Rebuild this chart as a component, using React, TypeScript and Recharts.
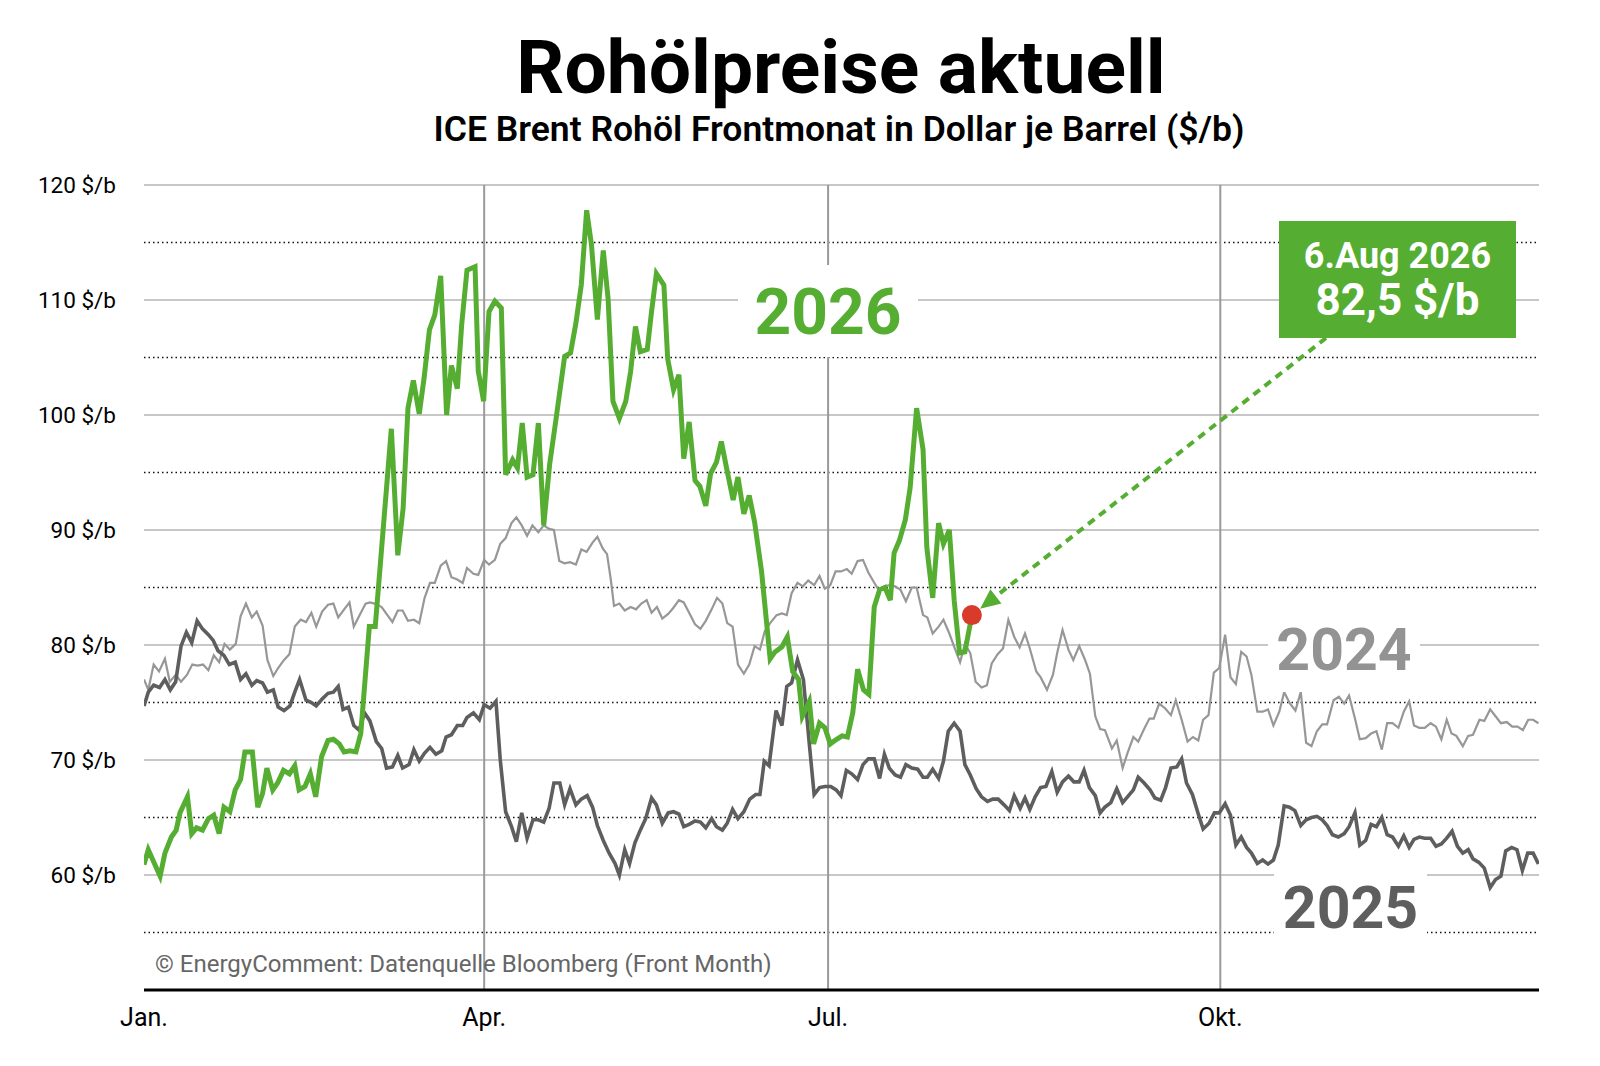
import React from "react";
import { LineChart, Line, XAxis, YAxis, ReferenceLine, ReferenceDot } from "recharts";

const W = 1600;
const H = 1066;
const PLOT = { left: 144, right: 1539, top: 185, bottom: 990 };
const X_MAX = 260;
const Y_MIN = 50;
const Y_MAX = 120;

// trading-day index → month labels
const monthTicks = [0, 63.4, 127.5, 200.6];
const monthLabels = ["Jan.", "Apr.", "Jul.", "Okt."];
const priceTicks = [60, 70, 80, 90, 100, 110, 120];
const dottedLevels = [55, 65, 75, 85, 95, 105, 115];

// [trading day, $/b]
const brent2024: [number, number][] = [
  [0, 77.0], [0.8, 76.1], [1.8, 78.3], [2.8, 77.7], [3.9, 78.8], [4.8, 76.8], [5.9, 77.4], [6.9, 76.8],
  [8, 77.4], [9, 78.3], [10, 78.2], [11, 78.3], [12, 77.8], [13, 79.1], [14, 78.5], [15, 80.1], [16, 79.6],
  [17.1, 80.1], [18, 82.5], [19, 83.6], [20.1, 82.4], [21, 82.9], [22.1, 81.7], [23, 78.7], [24.1, 77.3],
  [25, 78.0], [26.1, 78.7], [27.1, 79.2], [28.1, 81.6], [29.2, 82.2], [30.2, 82.0], [31.2, 82.8], [32.1, 81.6],
  [33.2, 82.9], [34.3, 83.5], [35.3, 83.6], [36.2, 82.4], [37.3, 83.1], [38.3, 83.7], [39.1, 81.6], [40.2, 82.6],
  [41.3, 83.6], [42.1, 83.7], [43, 83.6], [44.3, 83.3], [45.2, 82.7], [46.3, 82.0], [47.3, 83.0], [48.2, 83.0],
  [49.2, 82.1], [50.3, 82.2], [51.3, 81.9], [52.3, 84.1], [53.3, 85.4], [54.2, 85.4], [55.3, 86.9], [56.3, 87.3],
  [57.3, 85.9], [58.4, 85.7], [59.4, 85.4], [60.2, 86.7], [61.4, 86.2], [62.3, 86.1], [63.4, 87.4], [64.3, 87.0],
  [65.4, 87.4], [66.4, 88.8], [67.4, 89.3], [68.5, 90.6], [69.4, 91.1], [70.4, 90.4], [71.4, 89.5], [72.4, 90.4],
  [73.5, 89.8], [74.5, 90.4], [75.5, 90.1], [76.4, 90.0], [77.4, 87.3], [78.4, 87.1], [79.4, 87.2], [80.5, 87.0],
  [81.5, 88.3], [82.5, 88.1], [83.6, 88.9], [84.5, 89.4], [85.5, 88.4], [86.3, 87.9], [87, 85.7], [87.6, 83.4],
  [88.6, 83.6], [89.6, 83.0], [90.7, 83.3], [91.7, 83.1], [92.7, 83.6], [93.7, 83.9], [94.6, 82.8], [95.6, 83.3],
  [96.6, 82.3], [97.7, 82.7], [98.6, 83.2], [99.7, 83.9], [100.6, 83.7], [101.6, 82.8], [102.7, 81.8], [103.7, 81.4],
  [104.7, 82.1], [105.8, 83.1], [106.8, 84.1], [107.8, 83.6], [108.7, 81.9], [109.7, 81.6], [110.7, 78.3],
  [111.8, 77.5], [112.8, 78.3], [113.8, 79.9], [114.8, 79.6], [115.7, 81.2], [116.7, 81.9], [117.9, 82.6],
  [118.9, 82.75], [119.8, 82.6], [120.7, 84.5], [121.8, 85.4], [122.8, 85.1], [123.8, 85.6], [124.9, 85.2],
  [125.9, 86.0], [126.9, 84.9], [127.9, 85.2], [128.9, 86.4], [129.9, 86.4], [131, 86.6], [131.9, 86.2],
  [133, 87.3], [134, 87.4], [135, 86.3], [136, 85.5], [136.9, 84.8], [138, 85.1], [139, 85.2], [140, 85.1],
  [141, 84.8], [142, 83.8], [143.1, 85.0], [144, 85.0], [145.2, 82.6], [146, 82.4], [147, 81.0], [148.1, 81.6],
  [149, 82.2], [150.1, 81.0], [151.2, 79.6], [152.1, 78.5], [153, 80.1], [154, 79.3], [155, 76.8], [156.1, 76.3],
  [157.1, 76.5], [158, 78.4], [159.1, 79.2], [160.1, 79.7], [161.1, 82.2], [162.2, 80.7], [163.2, 79.8],
  [164.2, 81.0], [165.1, 79.7], [166.3, 77.7], [167.1, 77.2], [168.3, 76.1], [169.4, 77.4], [170.2, 79.3],
  [171.2, 81.3], [172.3, 79.6], [173.2, 78.7], [174.3, 79.9], [175.4, 78.7], [176.3, 77.5], [177.3, 73.8],
  [178.2, 72.7], [179.1, 72.6], [180.4, 71.0], [181.3, 71.7], [182.4, 69.3], [183.3, 70.6], [184.4, 72.0],
  [185.3, 71.6], [186.4, 72.7], [187.4, 73.6], [188.2, 73.6], [189.2, 74.9], [190.3, 74.5], [191.4, 73.9],
  [192.3, 75.2], [193.4, 73.5], [194.5, 71.6], [195.5, 72.0], [196.5, 71.7], [197.4, 73.5], [198.4, 73.9],
  [199.4, 77.6], [200.4, 78.0], [201.5, 80.9], [202.5, 77.2], [203.5, 76.6], [204.5, 79.4], [205.5, 79.0],
  [206.4, 77.4], [207.5, 74.2], [208.5, 74.2], [209.5, 74.4], [210.5, 73.0], [211.6, 74.2], [212.5, 75.9],
  [213.6, 74.9], [214.6, 74.3], [215.6, 75.9], [216.6, 71.5], [217.6, 71.2], [218.6, 72.5], [219.6, 73.1],
  [220.5, 73.1], [221.7, 75.2], [222.7, 75.5], [223.7, 74.9], [224.6, 75.6], [225.7, 73.6], [226.6, 71.8],
  [227.7, 71.9], [228.7, 72.3], [229.7, 72.5], [230.7, 70.9], [231.7, 73.2], [232.7, 73.2], [233.8, 72.8],
  [234.8, 74.2], [235.8, 75.1], [236.7, 73.0], [237.7, 72.8], [238.7, 72.8], [239.8, 73.2], [240.8, 72.9],
  [241.8, 71.8], [242.8, 73.5], [243.7, 72.3], [244.6, 72.1], [245.8, 71.2], [246.8, 72.1], [247.7, 72.2],
  [248.9, 73.5], [249.8, 73.4], [250.9, 74.4], [251.9, 73.8], [252.9, 73.2], [254, 73.3], [255, 72.9],
  [256, 72.9], [257, 72.6], [258, 73.5], [258.9, 73.5], [259.9, 73.2],
];

const brent2025: [number, number][] = [
  [0, 74.7], [0.8, 75.9], [1.8, 76.5], [2.9, 76.3], [3.9, 77.0], [4.9, 76.1], [5.9, 76.8], [6.9, 79.9],
  [7.9, 81.1], [8.9, 80.2], [9.9, 82.1], [10.9, 81.4], [12, 80.9], [12.9, 80.4], [13.8, 79.5], [14.9, 79.1],
  [15.9, 78.3], [17, 78.5], [18, 77.0], [19, 77.5], [20.1, 76.5], [21, 76.9], [22.1, 76.7], [23, 75.9],
  [24.1, 76.1], [25, 74.6], [26.1, 74.3], [27.2, 74.7], [28.1, 75.9], [29, 77.0], [30.2, 75.2], [31.2, 75.0],
  [32.1, 74.7], [33.2, 75.3], [34.3, 75.8], [35.3, 75.9], [36.2, 76.4], [37.1, 74.4], [38.1, 74.6], [39.1, 73.0],
  [40.1, 72.6], [41.1, 74.1], [42.1, 73.4], [43.3, 71.6], [44.3, 71.0], [45.2, 69.3], [46.3, 69.4], [47.3, 70.4],
  [48.2, 69.3], [49.4, 69.6], [50.3, 70.9], [51.3, 69.9], [52.3, 70.6], [53.3, 71.1], [54.4, 70.5], [55.5, 70.8],
  [56.3, 72.0], [57.3, 72.2], [58.4, 73.0], [59.4, 73.0], [60.2, 73.7], [61.4, 74.1], [62.5, 73.5], [63.4, 74.8],
  [64.5, 74.5], [65.6, 75.1], [66.4, 70.0], [67.4, 65.5], [68.5, 64.2], [69.4, 62.9], [70.4, 65.4], [71.4, 63.2],
  [72.5, 64.8], [73.5, 64.8], [74.5, 64.6], [75.5, 65.8], [76.4, 68.0], [77.5, 68.0], [78.4, 66.1], [79.4, 67.5],
  [80.5, 66.1], [81.5, 66.6], [82.6, 66.9], [83.6, 65.9], [84.5, 64.3], [85.6, 63.0], [86.7, 61.9], [87.8, 61.0],
  [88.6, 60.0], [89.6, 62.2], [90.5, 61.0], [91.5, 62.8], [92.5, 63.9], [93.5, 64.9], [94.6, 66.7], [95.5, 66.1],
  [96.6, 64.5], [97.7, 65.4], [98.7, 65.5], [99.7, 65.3], [100.6, 64.2], [101.6, 64.4], [102.7, 64.7],
  [103.7, 64.6], [104.7, 64.1], [105.8, 64.9], [106.7, 64.2], [107.8, 63.9], [108.7, 64.5], [109.7, 65.7],
  [110.7, 64.9], [111.8, 65.5], [112.9, 66.6], [114, 67.0], [114.8, 67.0], [115.6, 69.9], [116.5, 69.5],
  [117.8, 74.3], [118.9, 73.0], [119.8, 76.4], [120.7, 76.7], [121.8, 78.7], [122.9, 77.0], [124, 71.4],
  [124.9, 67.0], [125.9, 67.6], [126.9, 67.7], [128, 67.7], [129, 67.4], [129.9, 66.9], [130.9, 69.1],
  [131.9, 68.8], [133, 68.3], [134, 69.6], [135, 70.1], [136.1, 70.1], [137.1, 68.4], [138, 70.5], [138.9, 69.3],
  [140, 68.7], [141, 68.5], [142, 69.6], [143.1, 69.3], [144.2, 69.2], [145.2, 68.5], [146, 68.5], [147, 69.2],
  [148.1, 68.4], [149, 69.9], [149.9, 72.5], [151, 73.2], [152.1, 72.5], [153, 69.6], [154, 68.7], [155.1, 67.5],
  [156.1, 66.8], [157.2, 66.4], [158.2, 66.6], [159.2, 66.6], [160.3, 66.1], [161.3, 65.6], [162.2, 66.9],
  [163.3, 65.8], [164.2, 66.7], [165.1, 65.7], [166.1, 66.8], [167.1, 67.6], [168.1, 67.7], [169.2, 69.0],
  [170.2, 67.2], [171.2, 68.1], [172.3, 68.6], [173.3, 68.1], [174.3, 68.1], [175.2, 69.1], [176.2, 67.6],
  [177.3, 66.9], [178.2, 65.4], [179.1, 65.9], [180.2, 66.3], [181.3, 67.5], [182.4, 66.3], [183.5, 66.9],
  [184.4, 67.4], [185.3, 68.5], [186.4, 68.0], [187.5, 67.4], [188.4, 66.7], [189.5, 66.5], [190.4, 67.6],
  [191.4, 69.3], [192.5, 69.4], [193.4, 70.1], [194.3, 68.0], [195.4, 67.0], [196.5, 65.3], [197.4, 64.0],
  [198.5, 64.5], [199.5, 65.4], [200.4, 65.4], [201.5, 66.2], [202.5, 65.2], [203.5, 62.6], [204.5, 63.3],
  [205.5, 62.4], [206.4, 61.9], [207.5, 61.0], [208.5, 61.3], [209.5, 60.95], [210.5, 61.3], [211.4, 62.6],
  [212.5, 66.0], [213.5, 65.9], [214.5, 65.6], [215.6, 64.3], [216.6, 64.8], [217.6, 65.0], [218.6, 65.1],
  [219.6, 64.8], [220.5, 64.3], [221.5, 63.5], [222.6, 63.3], [223.7, 63.6], [224.6, 64.2], [225.7, 65.4],
  [226.6, 62.6], [227.7, 63.0], [228.7, 64.4], [229.7, 64.2], [230.7, 65.0], [231.7, 63.5], [232.7, 63.3],
  [233.8, 62.5], [234.8, 63.4], [235.8, 62.4], [236.7, 63.1], [237.7, 63.3], [238.7, 63.2], [239.8, 63.2],
  [240.8, 62.5], [241.8, 62.7], [242.8, 63.2], [243.8, 63.8], [244.8, 62.5], [245.8, 61.9], [246.8, 62.2],
  [247.7, 61.4], [248.8, 61.1], [249.8, 60.6], [250.9, 58.9], [251.9, 59.6], [252.9, 59.9], [253.8, 62.1],
  [254.9, 62.4], [255.9, 62.2], [256.9, 60.4], [257.9, 61.9], [258.9, 61.9], [259.9, 60.95],
];

const brent2026: [number, number][] = [
  [0, 60.9], [0.8, 62.2], [3, 59.9], [3.9, 61.9], [5.1, 63.3], [6, 63.9], [6.7, 65.4], [8.1, 66.8], [8.9, 63.6],
  [9.8, 64.1], [10.9, 63.9], [12, 64.9], [13, 65.2], [14, 63.6], [14.9, 65.9], [16, 65.5], [17, 67.4], [18, 68.3],
  [18.8, 70.7], [20.2, 70.7], [21.2, 65.9], [22.1, 67.1], [22.9, 69.3], [24, 67.4], [24.9, 68.0], [26, 69.1],
  [27.1, 68.8], [28.1, 69.5], [28.9, 67.4], [30, 67.7], [31, 68.8], [32, 66.8], [33.1, 70.3], [34.3, 71.7],
  [35.3, 71.8], [36.4, 71.4], [37.3, 70.7], [38.4, 70.8], [39.5, 70.7], [40.4, 72.3], [42, 81.6], [43.1, 81.6],
  [46.1, 98.8], [47.3, 87.8], [48.3, 91.9], [49.2, 100.6], [50.2, 103.0], [51.3, 100.1], [52.2, 103.2],
  [53.2, 107.4], [54.2, 108.7], [55.3, 112.1], [56.4, 100.0], [57.3, 104.3], [58.4, 102.3], [59.2, 107.8],
  [60.2, 112.6], [61.7, 112.9], [62.3, 103.8], [63.3, 101.2], [64.3, 109.0], [65.4, 109.9], [66.6, 109.3],
  [67.4, 94.8], [68.7, 96.1], [69.6, 95.4], [70.5, 99.3], [71.4, 94.6], [72.5, 94.8], [73.5, 99.3], [74.5, 90.4],
  [75.6, 95.7], [76.9, 100.0], [78.4, 105.1], [79.5, 105.4], [80.5, 108.0], [81.5, 111.3], [82.5, 117.8],
  [83.4, 114.8], [84.5, 108.3], [85.6, 114.3], [86.5, 110.1], [87.4, 101.2], [88.6, 99.7], [89.8, 101.2],
  [90.7, 103.8], [91.6, 107.7], [92.5, 105.5], [93.8, 105.7], [94.6, 109.0], [95.5, 112.3], [96.9, 111.3],
  [97.6, 104.9], [98.7, 102.2], [99.7, 103.5], [100.6, 96.2], [101.6, 99.4], [102.7, 94.3], [103.6, 93.8],
  [104.7, 92.1], [105.6, 94.9], [106.7, 95.9], [107.6, 97.7], [108.7, 95.1], [109.8, 92.6], [110.7, 94.6],
  [111.8, 91.4], [112.8, 93.0], [113.8, 90.7], [115.1, 86.4], [116.7, 78.8], [117.6, 79.4], [118.9, 79.85],
  [119.9, 80.7], [120.9, 77.7], [122, 77.0], [122.7, 73.8], [124, 75.1], [124.8, 71.4], [125.9, 73.2],
  [126.9, 72.8], [127.9, 71.4], [129.1, 71.8], [130.1, 72.1], [131.1, 72.0], [132.1, 74.1], [133, 77.9],
  [134.1, 76.1], [135.1, 75.7], [136.1, 83.3], [137.1, 84.8], [138.1, 85.0], [139.1, 83.9], [139.8, 88.0],
  [140.8, 89.1], [141.9, 90.9], [142.8, 93.7], [144, 100.6], [145.2, 97.0], [145.9, 88.5], [147, 84.1],
  [148.1, 90.6], [149, 88.8], [150.1, 90.0], [151, 83.9], [152, 79.3], [153, 79.4], [154.3, 82.6],
];

const toPoints = (rows: [number, number][]) => rows.map(([t, v]) => ({ t, v }));
const series2024 = toPoints(brent2024);
const series2025 = toPoints(brent2025);
const series2026 = toPoints(brent2026);
const last2026 = brent2026[brent2026.length - 1];

const GREEN = "#55ae32";
const DARK = "#5e5e5e";
const LIGHT = "#979797";
const FONT = "Roboto, 'Noto Sans', sans-serif";

// overlay helpers mirror the chart's plot box
const xPx = (t: number) => PLOT.left + (t / X_MAX) * (PLOT.right - PLOT.left);
const yPx = (v: number) => PLOT.top + ((Y_MAX - v) / (Y_MAX - Y_MIN)) * (PLOT.bottom - PLOT.top);

function Arrow() {
  const sx = 1326;
  const sy = 338;
  const cx = xPx(last2026[0]);
  const cy = yPx(last2026[1]);
  const dx = cx - sx;
  const dy = cy - sy;
  const len = Math.hypot(dx, dy);
  const ux = dx / len;
  const uy = dy / len;
  const tipX = cx - ux * 10.5;
  const tipY = cy - uy * 10.5;
  const head = 20;
  const bx = tipX - ux * head;
  const by = tipY - uy * head;
  const px = -uy * 9;
  const py = ux * 9;
  return (
    <g>
      <line x1={sx} y1={sy} x2={bx} y2={by} stroke={GREEN} strokeWidth={4} strokeDasharray="8 6" />
      <polygon points={`${tipX},${tipY} ${bx + px},${by + py} ${bx - px},${by - py}`} fill={GREEN} />
    </g>
  );
}

function YearLabel({ x, y, w, h, text, color, size, base }: { x: number; y: number; w: number; h: number; text: string; color: string; size: number; base: number }) {
  return (
    <g>
      <rect x={x} y={y} width={w} height={h} fill="#fff" />
      <text x={x + w / 2} y={base} textAnchor="middle" fontSize={size} fontWeight={700} fill={color} fontFamily={FONT}>
        {text}
      </text>
    </g>
  );
}

export default function App() {
  return (
    <div style={{ position: "absolute", left: 0, top: 0, width: W, height: H, background: "#fff", fontFamily: FONT }}>
      <LineChart width={W} height={H} margin={{ top: PLOT.top, right: W - PLOT.right, bottom: 0, left: 0 }}>
        <XAxis
          type="number"
          dataKey="t"
          domain={[0, X_MAX]}
          ticks={monthTicks}
          interval={0}
          tickFormatter={(v: number) => monthLabels[monthTicks.indexOf(v)] ?? ""}
          height={H - PLOT.bottom}
          axisLine={{ stroke: "#000", strokeWidth: 3 }}
          tickLine={false}
          tickSize={0}
          tickMargin={18}
          tick={{ fill: "#000", fontSize: 25, fontFamily: FONT }}
          allowDataOverflow
        />
        <YAxis
          type="number"
          domain={[Y_MIN, Y_MAX]}
          ticks={priceTicks}
          interval={0}
          width={PLOT.left}
          axisLine={false}
          tickLine={false}
          tickSize={0}
          tickMargin={28}
          tickFormatter={(v: number) => `${v} $/b`}
          tick={{ fill: "#000", fontSize: 22.5, fontFamily: FONT }}
          allowDataOverflow
        />
        {priceTicks.map((v) => (
          <ReferenceLine key={`s${v}`} y={v} stroke="#b5b5b5" strokeWidth={1.5} />
        ))}
        {dottedLevels.map((v) => (
          <ReferenceLine key={`d${v}`} y={v} stroke="#111" strokeWidth={1.5} strokeDasharray="1.5 3" />
        ))}
        {monthTicks.slice(1).map((t) => (
          <ReferenceLine key={`m${t}`} x={t} stroke="#9a9a9a" strokeWidth={2} />
        ))}
        <Line data={series2024} dataKey="v" type="linear" stroke={LIGHT} strokeWidth={2.2} dot={false} isAnimationActive={false} />
        <Line data={series2025} dataKey="v" type="linear" stroke={DARK} strokeWidth={3.6} dot={false} isAnimationActive={false} />
        <Line data={series2026} dataKey="v" type="linear" stroke={GREEN} strokeWidth={5} dot={false} isAnimationActive={false} />
        <ReferenceDot x={last2026[0]} y={last2026[1]} r={10} fill="#d93b2b" stroke="none" />
      </LineChart>

      <svg width={W} height={H} style={{ position: "absolute", left: 0, top: 0, pointerEvents: "none" }}>
        <text x={841} y={93} textAnchor="middle" fontSize={75} fontWeight={700} fill="#000" fontFamily={FONT}>
          Rohölpreise aktuell
        </text>
        <text x={839} y={141} textAnchor="middle" fontSize={35.5} fontWeight={600} fill="#000" fontFamily={FONT}>
          ICE Brent Rohöl Frontmonat in Dollar je Barrel ($/b)
        </text>

        <YearLabel x={738} y={265} w={180} h={92} text="2026" color={GREEN} size={64} base={334} />
        <YearLabel x={1268} y={612} w={152} h={80} text="2024" color="#939393" size={59} base={670} />
        <YearLabel x={1274} y={862} w={153} h={84} text="2025" color={DARK} size={59} base={928} />

        <Arrow />

        <rect x={1279} y={221} width={237} height={117} fill={GREEN} />
        <text x={1397.5} y={268} textAnchor="middle" fontSize={36} fontWeight={700} fill="#fff" fontFamily={FONT}>
          6.Aug 2026
        </text>
        <text x={1397.5} y={315} textAnchor="middle" fontSize={44} fontWeight={700} fill="#fff" fontFamily={FONT}>
          82,5 $/b
        </text>

        <text x={155} y={972} fontSize={24} fill="#666" fontFamily={FONT}>
          © EnergyComment: Datenquelle Bloomberg (Front Month)
        </text>
      </svg>
    </div>
  );
}
